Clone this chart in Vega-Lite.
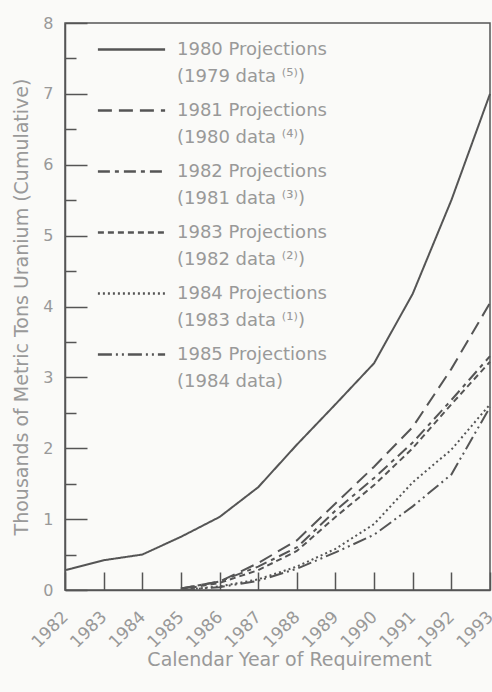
{
  "$schema": "https://vega.github.io/schema/vega-lite/v6.json",
  "width": 425,
  "height": 567,
  "autosize": {"type": "none"},
  "padding": {"left": 65, "top": 23, "right": 2, "bottom": 102},
  "background": "#fafaf8",
  "config": {"view": {"stroke": "#555555", "strokeWidth": 1.5}, "font": "DejaVu Sans"},
  "data": {"values": [
    {"series": "1980 Projections|(1979 data ⁽⁵⁾)", "year": 1982, "value": 0.28},
    {"series": "1980 Projections|(1979 data ⁽⁵⁾)", "year": 1983, "value": 0.42},
    {"series": "1980 Projections|(1979 data ⁽⁵⁾)", "year": 1984, "value": 0.5},
    {"series": "1980 Projections|(1979 data ⁽⁵⁾)", "year": 1985, "value": 0.75},
    {"series": "1980 Projections|(1979 data ⁽⁵⁾)", "year": 1986, "value": 1.03},
    {"series": "1980 Projections|(1979 data ⁽⁵⁾)", "year": 1987, "value": 1.45},
    {"series": "1980 Projections|(1979 data ⁽⁵⁾)", "year": 1988, "value": 2.05},
    {"series": "1980 Projections|(1979 data ⁽⁵⁾)", "year": 1989, "value": 2.62},
    {"series": "1980 Projections|(1979 data ⁽⁵⁾)", "year": 1990, "value": 3.2},
    {"series": "1980 Projections|(1979 data ⁽⁵⁾)", "year": 1991, "value": 4.18},
    {"series": "1980 Projections|(1979 data ⁽⁵⁾)", "year": 1992, "value": 5.5},
    {"series": "1980 Projections|(1979 data ⁽⁵⁾)", "year": 1993, "value": 7.0},
    {"series": "1981 Projections|(1980 data ⁽⁴⁾)", "year": 1985, "value": 0.02},
    {"series": "1981 Projections|(1980 data ⁽⁴⁾)", "year": 1986, "value": 0.12},
    {"series": "1981 Projections|(1980 data ⁽⁴⁾)", "year": 1987, "value": 0.38},
    {"series": "1981 Projections|(1980 data ⁽⁴⁾)", "year": 1988, "value": 0.7},
    {"series": "1981 Projections|(1980 data ⁽⁴⁾)", "year": 1989, "value": 1.22},
    {"series": "1981 Projections|(1980 data ⁽⁴⁾)", "year": 1990, "value": 1.74},
    {"series": "1981 Projections|(1980 data ⁽⁴⁾)", "year": 1991, "value": 2.3},
    {"series": "1981 Projections|(1980 data ⁽⁴⁾)", "year": 1992, "value": 3.12},
    {"series": "1981 Projections|(1980 data ⁽⁴⁾)", "year": 1993, "value": 4.05},
    {"series": "1982 Projections|(1981 data ⁽³⁾)", "year": 1985, "value": 0.02},
    {"series": "1982 Projections|(1981 data ⁽³⁾)", "year": 1986, "value": 0.12},
    {"series": "1982 Projections|(1981 data ⁽³⁾)", "year": 1987, "value": 0.33},
    {"series": "1982 Projections|(1981 data ⁽³⁾)", "year": 1988, "value": 0.6},
    {"series": "1982 Projections|(1981 data ⁽³⁾)", "year": 1989, "value": 1.12},
    {"series": "1982 Projections|(1981 data ⁽³⁾)", "year": 1990, "value": 1.58},
    {"series": "1982 Projections|(1981 data ⁽³⁾)", "year": 1991, "value": 2.08},
    {"series": "1982 Projections|(1981 data ⁽³⁾)", "year": 1992, "value": 2.68},
    {"series": "1982 Projections|(1981 data ⁽³⁾)", "year": 1993, "value": 3.3},
    {"series": "1983 Projections|(1982 data ⁽²⁾)", "year": 1985, "value": 0.01},
    {"series": "1983 Projections|(1982 data ⁽²⁾)", "year": 1986, "value": 0.1},
    {"series": "1983 Projections|(1982 data ⁽²⁾)", "year": 1987, "value": 0.28},
    {"series": "1983 Projections|(1982 data ⁽²⁾)", "year": 1988, "value": 0.55},
    {"series": "1983 Projections|(1982 data ⁽²⁾)", "year": 1989, "value": 1.03},
    {"series": "1983 Projections|(1982 data ⁽²⁾)", "year": 1990, "value": 1.48},
    {"series": "1983 Projections|(1982 data ⁽²⁾)", "year": 1991, "value": 2.0},
    {"series": "1983 Projections|(1982 data ⁽²⁾)", "year": 1992, "value": 2.62},
    {"series": "1983 Projections|(1982 data ⁽²⁾)", "year": 1993, "value": 3.22},
    {"series": "1984 Projections|(1983 data ⁽¹⁾)", "year": 1985, "value": 0.0},
    {"series": "1984 Projections|(1983 data ⁽¹⁾)", "year": 1986, "value": 0.05},
    {"series": "1984 Projections|(1983 data ⁽¹⁾)", "year": 1987, "value": 0.15},
    {"series": "1984 Projections|(1983 data ⁽¹⁾)", "year": 1988, "value": 0.33},
    {"series": "1984 Projections|(1983 data ⁽¹⁾)", "year": 1989, "value": 0.58},
    {"series": "1984 Projections|(1983 data ⁽¹⁾)", "year": 1990, "value": 0.93},
    {"series": "1984 Projections|(1983 data ⁽¹⁾)", "year": 1991, "value": 1.52},
    {"series": "1984 Projections|(1983 data ⁽¹⁾)", "year": 1992, "value": 1.98},
    {"series": "1984 Projections|(1983 data ⁽¹⁾)", "year": 1993, "value": 2.62},
    {"series": "1985 Projections|(1984 data)", "year": 1985, "value": 0.0},
    {"series": "1985 Projections|(1984 data)", "year": 1986, "value": 0.04},
    {"series": "1985 Projections|(1984 data)", "year": 1987, "value": 0.13},
    {"series": "1985 Projections|(1984 data)", "year": 1988, "value": 0.3},
    {"series": "1985 Projections|(1984 data)", "year": 1989, "value": 0.53},
    {"series": "1985 Projections|(1984 data)", "year": 1990, "value": 0.78},
    {"series": "1985 Projections|(1984 data)", "year": 1991, "value": 1.18},
    {"series": "1985 Projections|(1984 data)", "year": 1992, "value": 1.63},
    {"series": "1985 Projections|(1984 data)", "year": 1993, "value": 2.58}
  ]},
  "mark": {"type": "line", "color": "#555555", "strokeWidth": 2},
  "encoding": {
    "x": {
      "field": "year", "type": "quantitative",
      "scale": {"domain": [1982, 1993], "nice": false, "zero": false},
      "axis": {
        "title": "Calendar Year of Requirement",
        "values": [1982, 1983, 1984, 1985, 1986, 1987, 1988, 1989, 1990, 1991, 1992, 1993],
        "format": "d", "labelAngle": -45, "labelAlign": "right", "labelBaseline": "middle",
        "tickSize": -18, "labelPadding": 42, "grid": false,
        "domainColor": "#555555", "domainWidth": 1.5, "tickColor": "#555555", "tickWidth": 1.5,
        "labelColor": "#999999", "labelFontSize": 17, "labelFlush": false, "labelOverlap": false,
        "titleColor": "#999999", "titleFontSize": 19, "titleFontWeight": "normal", "titlePadding": 0,
        "titleX": 224
      }
    },
    "y": {
      "field": "value", "type": "quantitative",
      "scale": {"domain": [0, 8], "nice": false},
      "axis": {
        "title": "Thousands of Metric Tons Uranium (Cumulative)",
        "values": [0, 0.5, 1, 1.5, 2, 2.5, 3, 3.5, 4, 4.5, 5, 5.5, 6, 6.5, 7, 7.5, 8],
        "labelExpr": "datum.value % 1 === 0 ? '' + datum.value : ''",
        "tickSize": {"condition": {"test": "datum.value % 1 === 0", "value": -22}, "value": -11},
        "labelPadding": 34, "grid": false,
        "domainColor": "#555555", "domainWidth": 1.5, "tickColor": "#555555", "tickWidth": 1.5,
        "labelColor": "#999999", "labelFontSize": 16, "labelFlush": false,
        "titleColor": "#999999", "titleFontSize": 19, "titleFontWeight": "normal", "titlePadding": 11
      }
    },
    "strokeDash": {
      "field": "series", "type": "nominal",
      "scale": {
        "domain": ["1980 Projections|(1979 data ⁽⁵⁾)", "1981 Projections|(1980 data ⁽⁴⁾)", "1982 Projections|(1981 data ⁽³⁾)", "1983 Projections|(1982 data ⁽²⁾)", "1984 Projections|(1983 data ⁽¹⁾)", "1985 Projections|(1984 data)"],
        "range": [[1, 0], [14, 7], [12, 5, 4, 5], [6, 4], [2, 3], [14, 4, 2, 4, 2, 4]]
      },
      "legend": {
        "orient": "none", "legendX": 53, "legendY": 13, "title": null,
        "symbolType": "M-2.8,0H2.8", "symbolSize": 576, "symbolStrokeWidth": 2.5, "symbolStrokeColor": "#555555",
        "symbolFillColor": "transparent",
        "labelExpr": "split(datum.label, '|')", "labelFontSize": 18, "labelColor": "#999999",
        "labelBaseline": "middle",
        "labelLimit": 0, "rowPadding": 11, "labelOffset": 32,
        "encode": {"labels": {"update": {"lineHeight": {"value": 27}}}}
      }
    }
  }
}
